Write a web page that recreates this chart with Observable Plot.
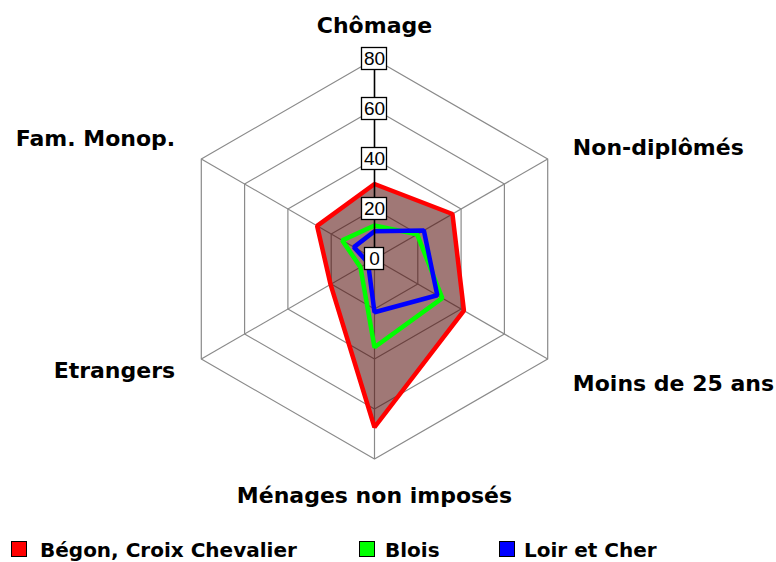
<!DOCTYPE html>
<html><head><meta charset="utf-8">
<script src="https://cdn.jsdelivr.net/npm/d3@7"></script>
<script src="https://cdn.jsdelivr.net/npm/@observablehq/plot@0.6"></script>
<style>
body{margin:0;background:#fff;position:relative;width:776px;height:562px;overflow:hidden;}
#chart svg{display:block;}
.lg{position:absolute;top:540px;font-family:"DejaVu Sans",sans-serif;font-weight:bold;font-size:20px;line-height:20px;color:#000;white-space:nowrap;}
.sw{position:absolute;top:541px;width:14px;height:14px;border:1px solid #000;}
</style></head><body>
<div id="chart"></div>
<div id="legend"></div>
<script>
const axes = ["Chômage", "Non-diplômés", "Moins de 25 ans", "Ménages non imposés", "Etrangers", "Fam. Monop."];
const seriesNames = ["Bégon, Croix Chevalier", "Blois", "Loir et Cher"];
const begon = [30, 36, 41.3, 67.3, 20.3, 26.5];
const blois = [13.4, 19.7, 31.3, 35.3, 6.5, 14.9];
const loir = [11.1, 22.8, 29, 21.3, 3, 9.5];
const ticks = [0, 20, 40, 60, 80];
const colors = ["#ff0000", "#00ff00", "#0000ff"];

const W = 776, H = 522, cx = 374, cy = 258.5, k = 2.5; // pixels per unit
const maxV = 80, labelR = 93;
const ang = i => i * Math.PI / 3;
const px = (v, i) => v * Math.sin(ang(i));
const py = (v, i) => v * Math.cos(ang(i));

const allSeries = [begon, blois, loir];
const pts = [];
allSeries.forEach((vals, s) => vals.forEach((v, i) => pts.push({s: seriesNames[s], i, x: px(v, i), y: py(v, i)})));

const rings = [];
ticks.filter(t => t > 0).forEach(t => axes.forEach((a, i) => rings.push({t, x: px(t, i), y: py(t, i)})));

const spokes = axes.map((a, i) => ({i, x2: px(maxV, i), y2: py(maxV, i)}));
const labels = axes.map((a, i) => ({a, i, x: px(labelR, i), y: py(labelR, i)}));

const boxH = 22;
const boxes = ticks.map(t => { const w = 13 + 6 * String(t).length; return {t, x1: -w / 2 / k, x2: w / 2 / k, y1: t - boxH / 2 / k, y2: t + boxH / 2 / k}; });

const labelFont = {fontFamily: "DejaVu Sans", fontWeight: "bold", fontSize: 22, fill: "#000"};

const chart = Plot.plot({
  width: W, height: H,
  marginLeft: 0, marginRight: 0, marginTop: 0, marginBottom: 0,
  x: {domain: [-cx / k, (W - cx) / k], axis: null},
  y: {domain: [-(H - cy) / k, cy / k], axis: null},
  marks: [
    Plot.line(rings, {x: "x", y: "y", z: "t", curve: "linear-closed", stroke: "#8a8a8a", strokeWidth: 1.2}),
    Plot.link(spokes.filter(d => d.i > 0), {x1: 0, y1: 0, x2: "x2", y2: "y2", stroke: "#8a8a8a", strokeWidth: 1.2}),
    Plot.line(pts.filter(d => d.s === seriesNames[0]), {x: "x", y: "y", curve: "linear-closed", fill: "#520a06", fillOpacity: 0.55, stroke: "none"}),
    Plot.line(pts, {x: "x", y: "y", z: "s", curve: "linear-closed", stroke: d => d.s, strokeWidth: 4.5, strokeLinejoin: "miter"}),
    Plot.link(spokes.filter(d => d.i === 0), {x1: 0, y1: 0, x2: "x2", y2: "y2", stroke: "#000", strokeWidth: 1.6}),
    Plot.rect(boxes, {x1: "x1", x2: "x2", y1: "y1", y2: "y2", fill: "#fff", stroke: "#000", strokeWidth: 1.3}),
    Plot.text(ticks, {x: 0, y: d => d, text: d => String(d), fontFamily: "Liberation Sans", fontSize: 19, fill: "#000"}),
    Plot.text(labels.filter(d => d.i === 0), {x: "x", y: "y", text: "a", textAnchor: "middle", dy: -1, ...labelFont}),
    Plot.text(labels.filter(d => d.i === 3), {x: "x", y: "y", text: "a", textAnchor: "middle", dy: 4, ...labelFont}),
    Plot.text(labels.filter(d => d.i === 1), {x: "x", y: "y", text: "a", textAnchor: "start", dx: -3, dy: 5, ...labelFont}),
    Plot.text(labels.filter(d => d.i === 2), {x: "x", y: "y", text: "a", textAnchor: "start", dx: -3, dy: 9, ...labelFont}),
    Plot.text(labels.filter(d => d.i === 4 || d.i === 5), {x: "x", y: "y", text: "a", textAnchor: "end", dx: 2, dy: -4, ...labelFont})
  ],
  color: {domain: seriesNames, range: colors}
});
document.getElementById("chart").appendChild(chart);

const legendPos = [[11, 40], [359, 385], [499, 524]];
const lg = document.getElementById("legend");
seriesNames.forEach((n, s) => {
  const sw = document.createElement("div");
  sw.className = "sw"; sw.style.left = legendPos[s][0] + "px"; sw.style.background = colors[s];
  const tx = document.createElement("div");
  tx.className = "lg"; tx.style.left = legendPos[s][1] + "px"; tx.textContent = n;
  lg.appendChild(sw); lg.appendChild(tx);
});
</script>
</body></html>
